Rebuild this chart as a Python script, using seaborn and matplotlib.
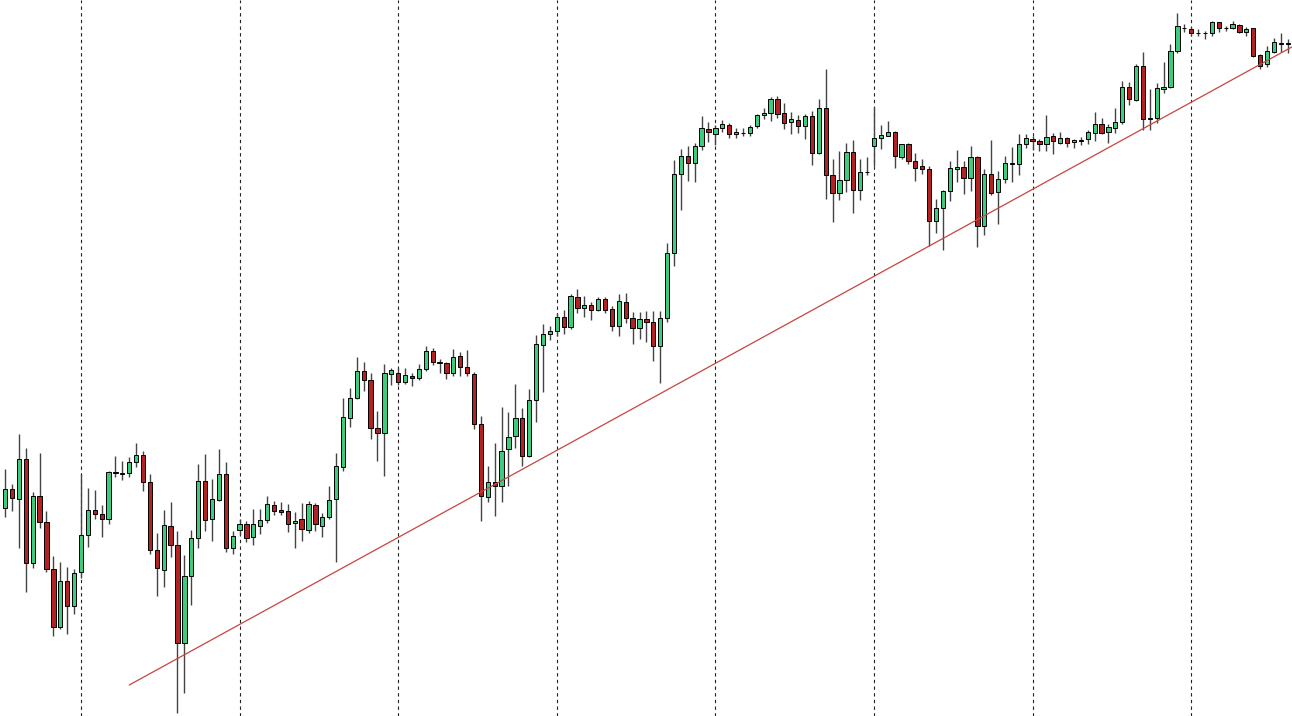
"""Hourly candlestick chart with rising trend line (seaborn style + matplotlib)"""
import numpy as np
import matplotlib
matplotlib.use("Agg")
import matplotlib.pyplot as plt
import seaborn as sns

open_y = [508, 489, 499, 459, 563, 496, 522, 569, 627, 581,
          606, 572, 535, 510, 514, 519, 472, 472.5, 473, 462,
          455, 482, 550, 570, 526, 545, 643, 576, 538, 481,
          519, 500, 474, 548, 530, 524, 537, 526, 520, 505,
          510, 511, 523, 519, 530, 505, 526, 517, 499, 467,
          418, 398, 371, 380, 428, 433, 374, 373, 382, 376,
          378, 369, 351, 363, 363, 373, 356, 367, 374, 424,
          497, 482, 486, 449, 436, 418, 456, 400, 345, 334,
          331, 317, 327, 297, 308, 305, 310, 299, 309, 326,
          302, 318, 328, 319, 322, 346, 318, 253, 174, 156,
          163, 146, 129, 134, 128, 125, 134, 133, 133, 126,
          115, 113, 99, 113, 122, 120, 126, 116, 153, 108,
          175, 193, 180, 152, 190, 172, 146, 138, 136, 132,
          157, 144, 161, 166, 169, 221, 208, 191, 169, 167,
          178, 157, 226, 174, 192, 179, 164, 164, 144, 139,
          141, 144, 136, 143, 138, 142, 141, 139, 133, 124,
          132, 128, 122, 87, 100, 66, 119, 118, 89, 87,
          51, 28, 29, 33, 33, 33, 22, 28, 28, 25,
          32, 28, 55, 64, 52, 44, 44]
high_y = [469, 484, 434, 448, 492, 453, 511, 556, 562, 567,
          569, 474, 488, 490, 505, 471, 456, 461, 457, 443,
          451, 474, 533, 510, 502, 531, 555, 530, 464, 454,
          479, 449, 462, 531, 519, 521, 509, 509, 496, 501,
          502, 504, 512, 503, 501, 503, 513, 486, 453, 398,
          388, 357, 362, 373, 411, 364, 368, 368, 368, 373,
          364, 346, 348, 359, 362, 349, 352, 350, 372, 416,
          466, 443, 407, 412, 384, 408, 389, 335, 324, 326,
          313, 310, 294, 289, 296, 302, 297, 297, 306, 294,
          293, 312, 312, 311, 311, 311, 243, 160, 149, 146,
          143, 116, 122, 125, 120, 123, 128, 128, 125, 114,
          108, 97, 96, 103, 112, 115, 114, 111, 99, 69,
          159, 151, 143, 140, 159, 157, 107, 125, 121, 131,
          144, 143, 153, 159, 166, 199, 190, 161, 150, 161,
          146, 156, 169, 140, 171, 156, 147, 134, 134, 136,
          139, 115, 133, 132, 137, 139, 137, 130, 112, 118,
          124, 108, 81, 82, 64, 52, 89, 83, 62, 44,
          13, 24, 27, 29, 31, 21, 21.5, 26, 21, 24,
          27, 28, 54, 46, 38, 33, 39]
low_y = [517, 511, 548, 592, 568, 528, 572, 636, 629, 634,
         614, 578, 547, 519, 537, 524, 477, 480, 477, 467,
         491, 554, 596, 587, 557, 713, 693, 605, 548, 531,
         541, 501, 552, 554, 535, 542, 545, 534, 523, 515,
         515, 532, 548, 541, 533, 531, 537, 519, 562, 471,
         427, 399, 391, 439, 461, 476, 385, 385, 384, 386,
         380, 371, 365, 373, 379, 376, 376, 376, 429, 521,
         502, 516, 502, 486, 448, 466, 457, 422, 392, 340,
         336, 334, 329, 313, 317, 320, 311, 313, 331, 336,
         323, 344, 339, 342, 361, 383, 322, 266, 210, 181,
         182, 150, 142, 145, 132, 138, 138, 136, 136, 128,
         119, 121, 118, 129, 134, 133, 139, 165, 154, 199,
         222, 200, 192, 213, 200, 175, 166, 149, 136, 168,
         159, 164, 181, 174, 246, 233, 250, 201, 182, 194,
         191, 247, 235, 195, 224, 183, 182, 175, 148, 150,
         151, 151, 154, 144, 147, 148, 145, 144, 141, 134,
         143, 133, 124, 105, 101, 130, 130, 123, 93, 88,
         53, 32, 36, 36, 39, 36, 32, 31, 29, 33,
         36, 57, 69, 67, 53, 52, 53]
close_y = [489, 498, 459, 563, 496, 522, 569, 627, 581, 606,
           573, 535, 510, 514, 519, 472, 473, 474, 462, 455,
           482, 550, 568, 525, 545, 643, 576, 538, 481, 520,
           499, 474, 548, 536, 524, 538, 524, 520, 504, 511,
           512, 524, 521, 529, 504, 524, 517, 500, 466, 417,
           398, 371, 380, 428, 433, 373, 370, 382, 375, 378,
           369, 351, 362, 362, 373, 357, 367, 373, 424, 496,
           482, 486, 451, 437, 418, 456, 400, 344, 334, 331,
           317, 327, 296, 308, 305, 310, 299, 310, 326, 301,
           318, 328, 319, 322, 346, 318, 253, 174, 156, 163,
           146, 128, 132, 128, 124, 134, 132, 132.5, 127, 115,
           113, 99, 114, 123, 119, 126, 116, 153, 108, 175,
           193, 180, 152, 190, 172, 171.5, 138, 135, 132, 156,
           144, 161, 168, 169, 221, 208, 191, 168, 167, 178,
           157, 226, 174, 193, 179, 163, 163, 144, 138, 141,
           144, 137, 141, 138, 143, 140, 140, 132, 124, 133,
           127, 122, 87, 99, 66, 119, 118, 88, 87, 51,
           26, 27.7, 33, 32.7, 33.3, 22, 28, 27.7, 24, 32,
           29, 56, 66, 51, 42, 43, 43]

# day separators (candle index) and the hand-drawn trend line
day_breaks = [11, 34, 57, 80, 103, 126, 149, 172]
trend_x = [18, 186.6]
trend_y = [685, 47]

TOP = 716
BULL = "#3dcc7e"
BEAR = "#b22222"


def main():
    sns.set_style("white")

    o = TOP - np.array(open_y, dtype=float)
    h = TOP - np.array(high_y, dtype=float)
    l = TOP - np.array(low_y, dtype=float)
    c = TOP - np.array(close_y, dtype=float)
    idx = np.arange(len(o))
    colors = [BULL if cc >= oo else BEAR for oo, cc in zip(o, c)]

    fig = plt.figure(figsize=(12.92, 7.16), dpi=100)
    ax = fig.add_axes([0, 0, 1, 1])

    for d in day_breaks:
        ax.axvline(d, color="#222222", lw=0.8, ls=(0, (3, 3)), zorder=0)

    ax.vlines(idx, l, h, color="#444444", lw=1.0, zorder=1)
    ax.bar(idx, c - o, bottom=o, width=0.62, color=colors,
           edgecolor="black", linewidth=0.7, zorder=2)

    sns.lineplot(x=trend_x, y=TOP - np.array(trend_y), color="#c8443f",
                 lw=0.9, ax=ax, zorder=3)

    ax.set_xlim(-0.74, 186.62)
    ax.set_ylim(0, TOP)
    ax.axis("off")
    fig.savefig("out.png", dpi=100, facecolor="white")


if __name__ == '__main__':
    main()
